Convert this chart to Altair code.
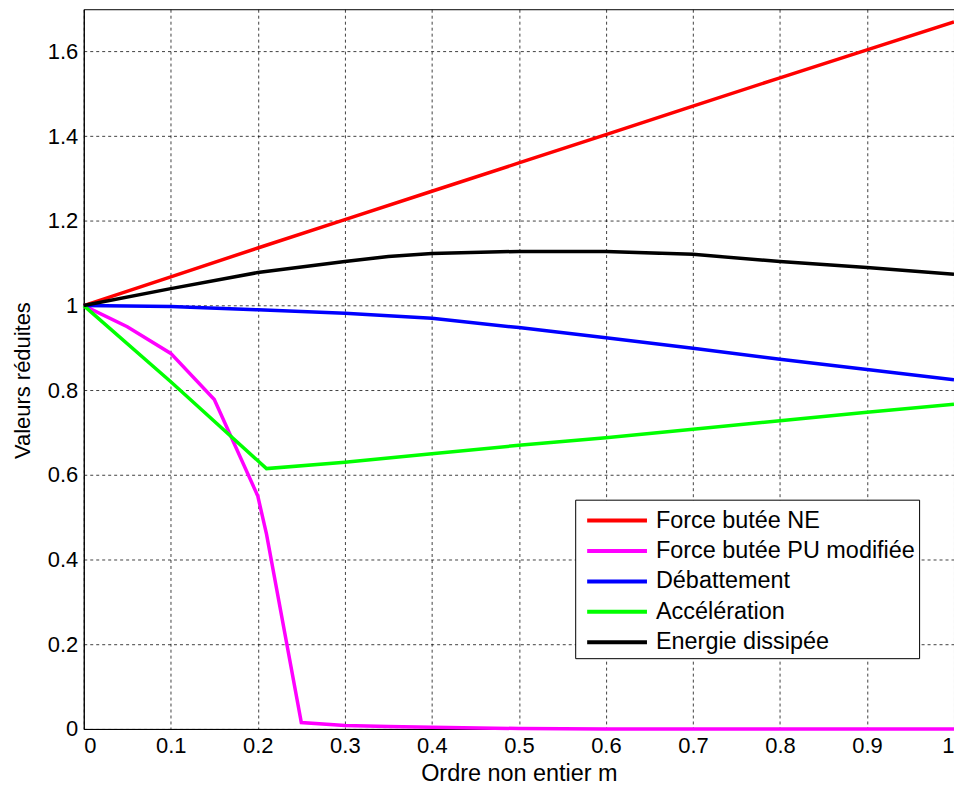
import altair as alt
import pandas as pd

x_ne = [0, 0.1, 0.2, 0.3, 0.4, 0.5, 0.6, 0.7, 0.8, 0.9, 1.0]
y_ne = [1.0, 1.068, 1.136, 1.203, 1.27, 1.337, 1.404, 1.471, 1.538, 1.604, 1.67]

x_pu = [0, 0.05, 0.1, 0.15, 0.2, 0.21, 0.25, 0.3, 0.35, 0.4, 0.5, 0.6, 0.7, 0.8, 0.9, 1.0]
y_pu = [1.0, 0.95, 0.887, 0.778, 0.55, 0.46, 0.015, 0.008, 0.006, 0.004, 0.001, 0.0, 0.0, 0.0, 0.0, 0.0]

x_deb = [0, 0.1, 0.2, 0.3, 0.4, 0.5, 0.6, 0.7, 0.8, 0.9, 1.0]
y_deb = [1.0, 0.998, 0.99, 0.982, 0.97, 0.948, 0.924, 0.899, 0.873, 0.849, 0.825]

x_acc = [0, 0.1, 0.21, 0.3, 0.4, 0.5, 0.6, 0.7, 0.8, 0.9, 1.0]
y_acc = [1.0, 0.82, 0.615, 0.63, 0.65, 0.67, 0.688, 0.708, 0.728, 0.748, 0.767]

x_en = [0, 0.1, 0.2, 0.3, 0.35, 0.4, 0.5, 0.6, 0.7, 0.8, 0.9, 1.0]
y_en = [1.0, 1.04, 1.078, 1.104, 1.116, 1.123, 1.128, 1.128, 1.121, 1.104, 1.09, 1.074]

series = ["Force butée NE", "Force butée PU modifiée", "Débattement", "Accélération", "Energie dissipée"]
colors = ["#ff0000", "#ff00ff", "#0000ff", "#00ff00", "#000000"]

x_ticks = [0, 0.1, 0.2, 0.3, 0.4, 0.5, 0.6, 0.7, 0.8, 0.9, 1.0]
y_ticks = [0, 0.2, 0.4, 0.6, 0.8, 1.0, 1.2, 1.4, 1.6]

rows = []
for name, xs, ys in zip(series, [x_ne, x_pu, x_deb, x_acc, x_en], [y_ne, y_pu, y_deb, y_acc, y_en]):
    for i, (a, b) in enumerate(zip(xs, ys)):
        rows.append({"serie": name, "m": a, "v": b, "ord": i})
df = pd.DataFrame(rows)

FONT = "Liberation Sans"

chart = alt.Chart(df).mark_line(strokeWidth=3.5).encode(
    x=alt.X("m:Q",
            scale=alt.Scale(domain=[0, 1], nice=False, zero=False),
            axis=alt.Axis(values=x_ticks, format="~g", title="Ordre non entier m",
                          grid=True, ticks=False, labelPadding=7,
                          titleY=52, titleBaseline="alphabetic")),
    y=alt.Y("v:Q",
            scale=alt.Scale(domain=[0, 1.7], nice=False, zero=False),
            axis=alt.Axis(values=y_ticks, format="~g", title="Valeurs réduites",
                          grid=True, ticks=False, labelPadding=6, titleFontSize=22,
                          titleX=-54, titleY=372, titleBaseline="alphabetic")),
    color=alt.Color("serie:N",
                    scale=alt.Scale(domain=series, range=colors),
                    sort=series,
                    legend=alt.Legend(title=None, orient="none", legendX=493, legendY=492,
                                      symbolType="M-1,0L3,0", symbolSize=900,
                                      symbolStrokeWidth=4, symbolOffset=6,
                                      labelOffset=37, labelFontSize=23.5, labelFont=FONT,
                                      labelColor="#000000", labelLimit=400,
                                      rowPadding=1.5, padding=4,
                                      fillColor="#ffffff", strokeColor="#000000",
                                      cornerRadius=0)),
    order=alt.Order("ord:Q"),
).properties(
    width=873,
    height=722,
    background="#ffffff",
    autosize=alt.AutoSizeParams(type="none"),
    padding={"left": 76, "top": 0, "right": 0, "bottom": 58},
).configure_view(
    stroke="#000000", strokeWidth=1
).configure_axis(
    domainColor="#000000", domainWidth=1,
    gridColor="#000000", gridDash=[3, 3], gridOpacity=0.75, gridWidth=1,
    labelFont=FONT, labelFontSize=22, labelColor="#000000",
    titleFont=FONT, titleFontSize=23.5, titleColor="#000000", titleFontWeight="normal",
)

chart.save("out.html", embed_options={"renderer": "svg", "actions": False})
